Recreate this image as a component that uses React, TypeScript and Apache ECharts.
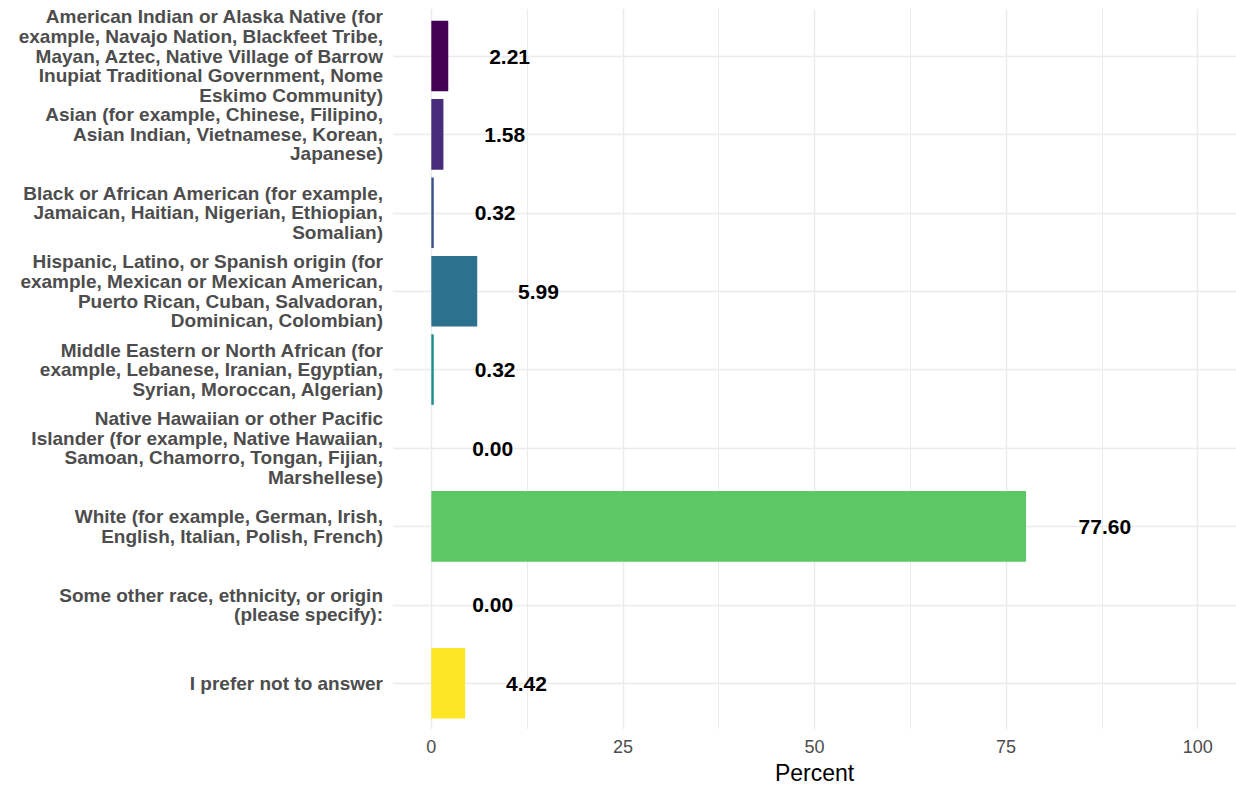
import React, { useEffect, useRef } from "react";
import * as echarts from "echarts";

const categories: string[] = [
  "American Indian or Alaska Native (for\nexample, Navajo Nation, Blackfeet Tribe,\nMayan, Aztec, Native Village of Barrow\nInupiat Traditional Government, Nome\nEskimo Community)",
  "Asian (for example, Chinese, Filipino,\nAsian Indian, Vietnamese, Korean,\nJapanese)",
  "Black or African American (for example,\nJamaican, Haitian, Nigerian, Ethiopian,\nSomalian)",
  "Hispanic, Latino, or Spanish origin (for\nexample, Mexican or Mexican American,\nPuerto Rican, Cuban, Salvadoran,\nDominican, Colombian)",
  "Middle Eastern or North African (for\nexample, Lebanese, Iranian, Egyptian,\nSyrian, Moroccan, Algerian)",
  "Native Hawaiian or other Pacific\nIslander (for example, Native Hawaiian,\nSamoan, Chamorro, Tongan, Fijian,\nMarshellese)",
  "White (for example, German, Irish,\nEnglish, Italian, Polish, French)",
  "Some other race, ethnicity, or origin\n(please specify):",
  "I prefer not to answer",
];

const percents: number[] = [2.21, 1.58, 0.32, 5.99, 0.32, 0.0, 77.6, 0.0, 4.42];

const barColors: string[] = [
  "#440154", "#472D7B", "#3B528B", "#2C728E", "#21908C",
  "#27AD81", "#5DC863", "#AADC32", "#FDE725",
];

const xTickLabels: number[] = [0, 25, 50, 75, 100];
const xGridValues: number[] = [0, 12.5, 25, 37.5, 50, 62.5, 75, 87.5, 100];

const FONT = '"Liberation Sans", Arial, Helvetica, sans-serif';
const LABEL_SIZE = 21;

function measure(text: string): number {
  const c = document.createElement("canvas").getContext("2d");
  if (!c) return text.length * LABEL_SIZE * 0.55;
  c.font = `bold ${LABEL_SIZE}px "Liberation Sans", Arial`;
  return c.measureText(text).width;
}

export default function App() {
  const ref = useRef<HTMLDivElement>(null);
  useEffect(() => {
    if (!ref.current) return;
    const chart = echarts.init(ref.current, undefined, { renderer: "svg" });
    const gridColor = "#EBEBEB";
    chart.setOption({
      animation: false,
      backgroundColor: "#FFFFFF",
      grid: [
        { left: 393, right: 0, top: 9, bottom: 59, containLabel: false },
        { left: 393, right: 0, top: 16.8, bottom: 66.6, containLabel: false },
      ],
      xAxis: [
        {
          type: "value",
          gridIndex: 0,
          min: -5,
          max: 105,
          axisLine: { show: false },
          axisTick: { show: false },
          splitLine: { show: false },
          axisLabel: {
            customValues: xTickLabels,
            color: "#4D4D4D",
            fontSize: 18,
            fontFamily: FONT,
            margin: 9,
          },
          name: "Percent",
          nameLocation: "middle",
          nameGap: 29,
          nameTextStyle: { color: "#000000", fontSize: 23, fontFamily: FONT },
        },
        {
          type: "value",
          gridIndex: 1,
          min: -5,
          max: 105,
          show: false,
        },
      ],
      yAxis: [
        { type: "value", gridIndex: 0, min: 0, max: 1, show: false },
        {
          type: "category",
          gridIndex: 1,
          inverse: true,
          data: categories,
          axisLine: { show: false },
          axisTick: { show: false },
          splitLine: { show: false },
          axisLabel: {
            interval: 0,
            hideOverlap: false,
            margin: 10,
            color: "#4D4D4D",
            fontSize: 19,
            fontWeight: "bold",
            fontFamily: FONT,
            lineHeight: 19.6,
            align: "right",
          },
        },
      ],
      series: [
        {
          type: "line",
          xAxisIndex: 0,
          yAxisIndex: 0,
          data: [],
          z: 0,
          silent: true,
          markLine: {
            z: 0,
            silent: true,
            symbol: ["none", "none"],
            label: { show: false },
            emphasis: { disabled: true },
            lineStyle: { color: gridColor, type: "solid", width: 1.3 },
            data: xGridValues.map((v) => ({
              xAxis: v,
              lineStyle: { color: gridColor, type: "solid", width: v % 25 === 0 ? 1.4 : 1 },
            })),
          },
        },
        {
          type: "line",
          xAxisIndex: 1,
          yAxisIndex: 1,
          data: [],
          z: 0,
          silent: true,
          markLine: {
            z: 0,
            silent: true,
            symbol: ["none", "none"],
            label: { show: false },
            emphasis: { disabled: true },
            lineStyle: { color: gridColor, type: "solid", width: 1.4 },
            data: categories.map((_, i) => ({ yAxis: i })),
          },
        },
        {
          type: "bar",
          xAxisIndex: 1,
          yAxisIndex: 1,
          barWidth: "90%",
          z: 10,
          data: percents.map((v, i) => ({
            value: v,
            itemStyle: { color: barColors[i] },
            label: { distance: measure(v.toFixed(2)) },
          })),
          label: {
            show: true,
            position: "right",
            formatter: (p: any) => Number(p.value).toFixed(2),
            color: "#000000",
            fontSize: LABEL_SIZE,
            fontWeight: "bold",
            fontFamily: FONT,
          },
        },
      ],
    });
    return () => chart.dispose();
  }, []);
  return (
    <div
      ref={ref}
      style={{ position: "absolute", left: 0, top: 0, width: 1236, height: 789 }}
    />
  );
}
